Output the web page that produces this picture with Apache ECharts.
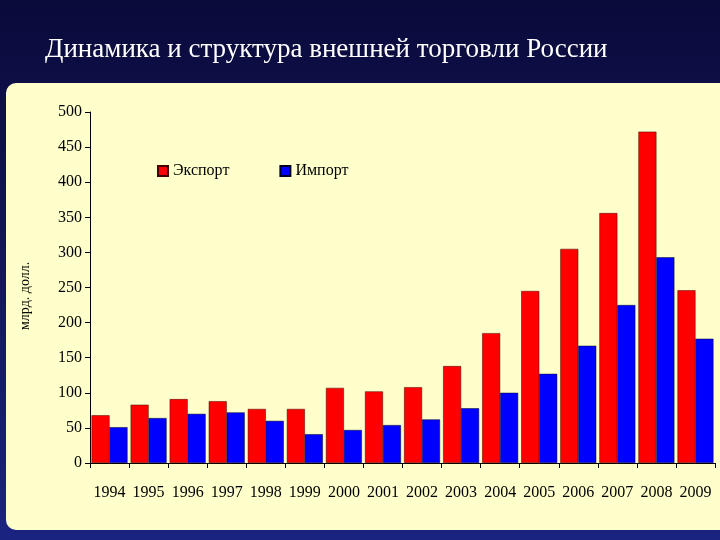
<!DOCTYPE html>
<html><head><meta charset="utf-8">
<script src="https://cdn.jsdelivr.net/npm/echarts@6/dist/echarts.min.js"></script>
<style>html,body{margin:0;padding:0;}#c{width:720px;height:540px;}</style>
</head><body><div id="c"></div>
<script>
const years = ['1994','1995','1996','1997','1998','1999','2000','2001','2002','2003','2004','2005','2006','2007','2008','2009'];
const exportVals = [68,83,91,88,77,77,107,102,108,138,185,245,305,356,472,246];
const importVals = [51,64,70,72,60,41,47,54,62,78,100,127,167,225,293,177];
const yTicks = [0,50,100,150,200,250,300,350,400,450,500];
const chart = echarts.init(document.getElementById('c'));
const F = 'Liberation Serif, Times New Roman, serif';
chart.setOption({
  animation:false,
  backgroundColor:{type:'linear',x:0,y:0,x2:0,y2:1,colorStops:[{offset:0,color:'#0a0a3a'},{offset:1,color:'#1a2380'}]},
  graphic:[
    {type:'rect',shape:{x:6,y:83,width:730,height:447,r:10},style:{fill:'#FFFFCC'},z:-1},
    {type:'text',x:45,y:36,style:{text:'Динамика и структура внешней торговли России',fill:'#ffffff',font:'27px '+F}},
    {type:'text',x:18,y:330,rotation:Math.PI/2,style:{text:'млрд. долл.',fill:'#000',font:'14px '+F}}
  ],
  legend:{top:158,left:152,itemGap:50,itemWidth:10,itemHeight:10,icon:'rect',textStyle:{fontFamily:F,fontSize:16,color:'#000'},data:['Экспорт','Импорт']},
  grid:{left:90,right:5,top:112,bottom:77},
  xAxis:{type:'category',data:years,axisLine:{lineStyle:{color:'#000'}},axisTick:{show:true,lineStyle:{color:'#000'}},
    axisLabel:{fontFamily:F,fontSize:16,color:'#000',margin:22,interval:0}},
  yAxis:{type:'value',min:0,max:500,interval:50,axisLine:{show:true,lineStyle:{color:'#000'}},axisTick:{show:true,lineStyle:{color:'#000'}},
    splitLine:{show:false},axisLabel:{fontFamily:F,fontSize:16,color:'#000',formatter:v=>yTicks.includes(v)?String(v):''}},
  series:[
    {name:'Экспорт',type:'bar',data:exportVals,barGap:'0%',barCategoryGap:'8%',itemStyle:{color:'#FF0000',borderColor:'#400',borderWidth:0.5}},
    {name:'Импорт',type:'bar',data:importVals,itemStyle:{color:'#0000FF',borderColor:'#002',borderWidth:0.5}}
  ]
});
</script></body></html>
